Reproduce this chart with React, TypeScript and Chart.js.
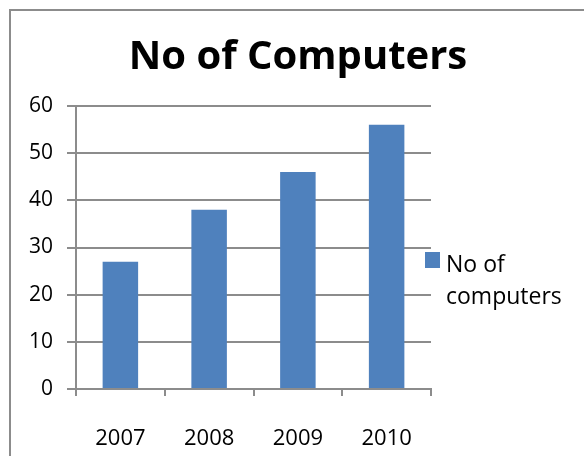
import { useEffect, useRef } from 'react';
import { Chart, registerables } from 'chart.js';

Chart.register(...registerables);

const TITLE = 'No of Computers';
const CATEGORIES = ['2007', '2008', '2009', '2010'];
const VALUES = [27, 38, 46, 56];
const SERIES_LABEL = 'No of computers';
const LEGEND_LINES = ['No of', 'computers'];
const Y_MIN = 0;
const Y_MAX = 60;
const Y_STEP = 10;

const FONT = "'Open Sans', 'Noto Sans', sans-serif";
const BAR_COLOR = '#4f81bd';
const GRID_COLOR = '#8c8c8c';

const framePlugin = {
  id: 'frame',
  beforeDraw(chart: any) {
    const { ctx, width, height } = chart;
    ctx.save();
    ctx.fillStyle = '#ffffff';
    ctx.fillRect(0, 0, width, height);
    ctx.strokeStyle = '#8c8c8c';
    ctx.lineWidth = 2;
    ctx.beginPath();
    ctx.moveTo(10, height);
    ctx.lineTo(10, 10);
    ctx.lineTo(width, 10);
    ctx.stroke();
    ctx.restore();
  },
};

// Legend drawn beside the plot: one swatch, label split over two lines.
const sideLegendPlugin = {
  id: 'sideLegend',
  afterDraw(chart: any) {
    const { ctx, chartArea } = chart;
    const boxX = chartArea.right - 6;
    const boxY = 252;
    ctx.save();
    ctx.fillStyle = BAR_COLOR;
    ctx.fillRect(boxX, boxY, 15, 16);
    ctx.fillStyle = '#000000';
    ctx.font = `23px ${FONT}`;
    ctx.textAlign = 'left';
    ctx.textBaseline = 'alphabetic';
    LEGEND_LINES.forEach((line, i) => {
      ctx.fillText(line, boxX + 21, 271.5 + i * 32);
    });
    ctx.restore();
  },
};

export default function App() {
  const canvasRef = useRef<HTMLCanvasElement | null>(null);

  useEffect(() => {
    if (!canvasRef.current) return;
    const chart = new Chart(canvasRef.current, {
      type: 'bar',
      data: {
        labels: CATEGORIES,
        datasets: [
          {
            label: SERIES_LABEL,
            data: VALUES,
            yAxisID: 'y',
            backgroundColor: BAR_COLOR,
            borderWidth: 0,
            barPercentage: 0.4,
            categoryPercentage: 1,
          },
        ],
      },
      options: {
        responsive: false,
        animation: false,
        layout: { padding: { left: 12, right: 0, top: 0, bottom: 0 } },
        plugins: {
          title: {
            display: true,
            text: TITLE,
            color: '#000000',
            font: { family: FONT, size: 40, weight: 'bold', lineHeight: 1.2 },
            padding: { top: 34, bottom: 24 },
          },
          legend: { display: false },
          tooltip: { enabled: false },
        },
        scales: {
          x: {
            grid: {
              display: true,
              drawOnChartArea: false,
              drawTicks: true,
              tickLength: 7,
              color: GRID_COLOR,
              lineWidth: 2,
              offset: true,
            },
            border: { display: true, color: GRID_COLOR, width: 2 },
            ticks: { color: '#000000', font: { family: FONT, size: 22 }, padding: 30 },
            afterFit: (s: any) => {
              s.height = 67;
            },
          },
          y: {
            position: 'left',
            min: Y_MIN,
            max: Y_MAX,
            ticks: { stepSize: Y_STEP, color: '#000000', font: { family: FONT, size: 21 }, padding: 14 },
            grid: { color: GRID_COLOR, lineWidth: 2, tickLength: 9 },
            border: { display: true, color: GRID_COLOR, width: 2 },
            afterFit: (s: any) => {
              s.width = 64;
            },
          },
          legendSpace: {
            type: 'linear',
            position: 'right',
            display: true,
            grid: { display: false, drawTicks: false },
            border: { display: false },
            ticks: { display: false },
            afterFit: (s: any) => {
              s.width = 153;
            },
          },
        },
      },
      plugins: [framePlugin, sideLegendPlugin],
    });
    return () => chart.destroy();
  }, []);

  return (
    <div style={{ position: 'absolute', left: 0, top: 0, width: 584, height: 456 }}>
      <canvas ref={canvasRef} width={584} height={456} style={{ display: 'block', width: 584, height: 456 }} />
    </div>
  );
}
